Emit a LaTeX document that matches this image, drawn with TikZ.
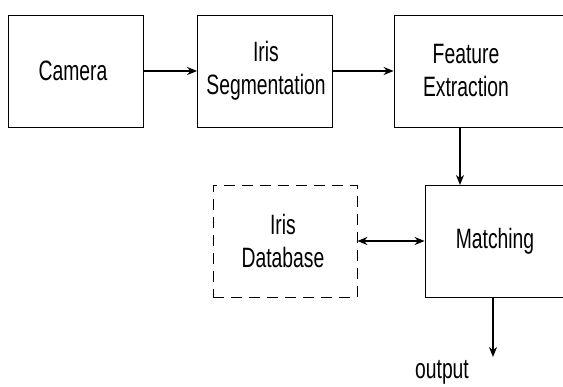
\documentclass[tikz,border=0pt]{standalone}
\usepackage{fontspec}
\setmainfont{Liberation Sans}
\newfontfamily\narrowfont[FakeStretch=0.69]{Liberation Sans}
\usetikzlibrary{arrows.meta}
\tikzset{
  blk/.style={draw=black, line width=0.8pt, minimum width=135pt, minimum height=112pt, inner sep=0pt},
  dblk/.style={blk, dash pattern=on 11pt off 7pt},
  txt/.style={font=\narrowfont\fontsize{28}{33}\selectfont, align=center, inner sep=0pt},
  arr/.style={line width=2pt, -{Stealth[length=10pt,width=8pt]}},
  darr/.style={line width=2pt, {Stealth[length=10pt,width=8pt]}-{Stealth[length=10pt,width=8pt]}}
}
\begin{document}
\begin{tikzpicture}[x=1pt,y=-1pt]
\useasboundingbox (0,0) rectangle (563,387);
\clip (0,0) rectangle (563,387);
\fill[white] (0,0) rectangle (563,387);
% boxes
\node[blk] (cam) at (75.5,71) {};
\node[txt] at (73,71) {Camera};
\node[blk] (seg) at (265,71) {};
\node[txt] at (266,71) {Iris\\Segmentation};
\node[blk, minimum width=180pt] (feat) at (484,71) {};
\node[txt] at (466,71) {Feature\\Extraction};
\node[blk, minimum width=150pt] (match) at (500,241) {};
\node[txt] (matchT) at (495,241) {Matching};
\node[dblk, minimum width=144pt] (db) at (285,241) {};
\node[txt] at (283,241) {Iris\\Database};
\coordinate (featdown) at (460,127);
\coordinate (matchtop) at (460,185);
\coordinate (outtop) at (493,297);
\coordinate (outend) at (493,357);
\node[txt, anchor=base] (out) at (442,379) {output};
% connectors
\draw[arr] (cam.east) -- (seg.west);
\draw[arr] (seg.east) -- (feat.west);
\draw[arr] (featdown) -- (matchtop);
\draw[darr] (db.east) -- (match.west);
\draw[arr] (outtop) -- (outend);
\end{tikzpicture}
\end{document}
